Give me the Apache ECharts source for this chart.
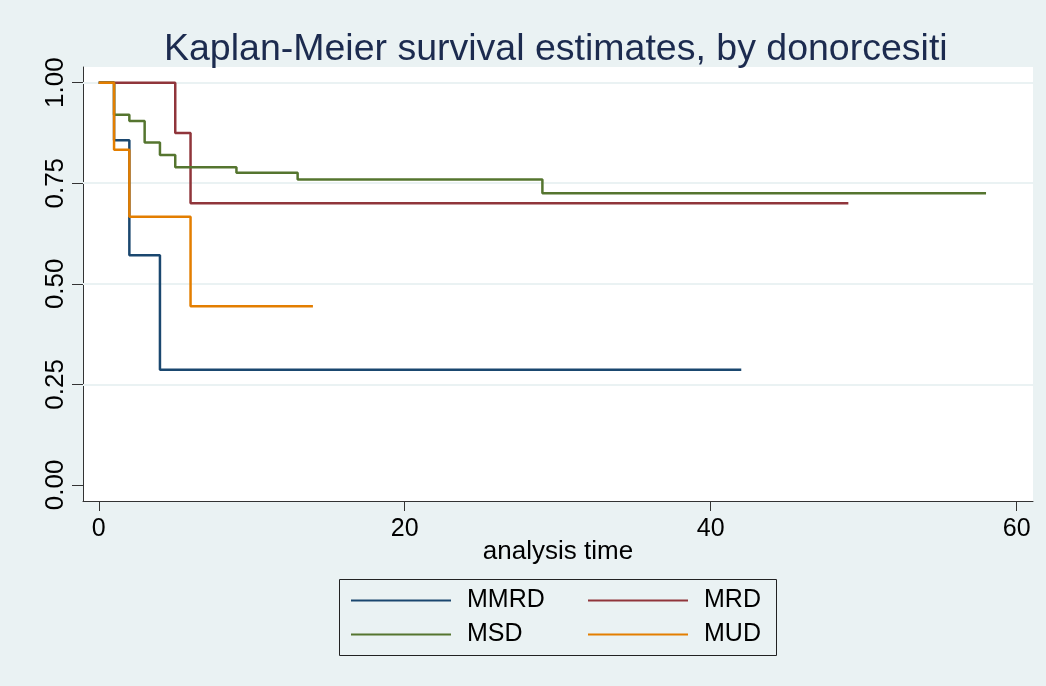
<!DOCTYPE html>
<html><head><meta charset="utf-8">
<script src="https://cdn.jsdelivr.net/npm/echarts@6/dist/echarts.min.js"></script>
<style>html,body{margin:0;padding:0;background:#eaf2f3}#c{width:1046px;height:686px}</style>
</head><body><div id="c"></div>
<script>
const seriesNames = ['MMRD', 'MRD', 'MSD', 'MUD'];
const mmrdTime = [0, 1, 2, 4, 42];
const mmrdSurv = [1, 0.857, 0.571, 0.286, 0.286];
const mrdTime = [0, 5, 6, 49];
const mrdSurv = [1, 0.875, 0.700, 0.700];
const msdTime = [0, 1, 2, 3, 4, 5, 9, 13, 29, 58];
const msdSurv = [1, 0.920, 0.905, 0.851, 0.820, 0.790, 0.776, 0.759, 0.725, 0.725];
const mudTime = [0, 1, 2, 6, 14];
const mudSurv = [1, 0.833, 0.667, 0.444, 0.444];
const xTicks = [0, 20, 40, 60];
const yTicks = [0, 0.25, 0.5, 0.75, 1];
const gridValues = [0.25, 0.5, 0.75, 1];
const colors = ['#1a476f', '#90353b', '#55752f', '#e37e00'];
const FONT = '"Liberation Sans", Arial, sans-serif';

function zip(t, s) { return t.map((v, i) => [v, s[i]]); }
const curves = [zip(mmrdTime, mmrdSurv), zip(mrdTime, mrdSurv), zip(msdTime, msdSurv), zip(mudTime, mudSurv)];

const chart = echarts.init(document.getElementById('c'));
const series = [{
  type: 'line', name: '_grid', data: [], silent: true, z: 1,
  markLine: {
    silent: true, symbol: 'none', z: 1, label: { show: false },
    lineStyle: { color: '#eaf2f3', width: 2, type: 'solid' },
    data: gridValues.map(v => ({ yAxis: v }))
  }
}];
curves.forEach((d, i) => series.push({
  type: 'line', name: seriesNames[i], data: d, step: 'end',
  symbol: 'none', showSymbol: false, z: 3 + i,
  lineStyle: { color: colors[i], width: 2.5 }, itemStyle: { color: colors[i] }
}));

const legendCommon = {
  orient: 'vertical', top: 588, padding: 0, icon: 'rect',
  itemWidth: 100, itemHeight: 2, itemGap: 9,
  textStyle: { fontSize: 25, lineHeight: 24, color: '#000', fontFamily: FONT, padding: [0, 0, 0, 11] }
};

chart.setOption({
  backgroundColor: '#eaf2f3',
  animation: false,
  textStyle: { fontFamily: FONT },
  title: {
    text: 'Kaplan-Meier survival estimates, by donorcesiti',
    left: 164, top: 31, padding: 0,
    textStyle: { fontSize: 37.5, fontWeight: 'normal', color: '#1c2b4f', fontFamily: FONT }
  },
  grid: { left: 83, top: 67, width: 950, height: 434, show: true, backgroundColor: '#ffffff', borderWidth: 0, containLabel: false },
  xAxis: {
    type: 'value', min: -1.03, max: 61.07,
    axisLine: { show: true, onZero: false, lineStyle: { color: '#333', width: 1 } },
    axisTick: { show: true, customValues: xTicks, length: 10, lineStyle: { color: '#333', width: 1 } },
    axisLabel: { customValues: xTicks, fontSize: 25, margin: 16, color: '#000', fontFamily: FONT },
    splitLine: { show: false },
    name: 'analysis time', nameLocation: 'middle', nameGap: 38, nameMoveOverlap: false,
    nameTextStyle: { fontSize: 26, color: '#000', fontFamily: FONT }
  },
  yAxis: {
    type: 'value', min: -0.04, max: 1.039,
    axisLine: { show: true, onZero: false, lineStyle: { color: '#333', width: 1 } },
    axisTick: { show: true, customValues: yTicks, length: 11, lineStyle: { color: '#333', width: 1 } },
    axisLabel: { customValues: yTicks, rotate: 90, fontSize: 26, margin: 14, color: '#000', fontFamily: FONT,
      formatter: v => Number(v).toFixed(2) },
    splitLine: { show: false }
  },
  legend: [
    Object.assign({ data: ['MMRD', 'MSD'], left: 351 }, legendCommon),
    Object.assign({ data: ['MRD', 'MUD'], left: 588 }, legendCommon)
  ],
  graphic: [{
    type: 'rect', silent: true,
    shape: { x: 339.5, y: 579.5, width: 437, height: 76 },
    style: { fill: 'none', stroke: '#222', lineWidth: 1 }
  }],
  series: series
});
</script></body></html>
